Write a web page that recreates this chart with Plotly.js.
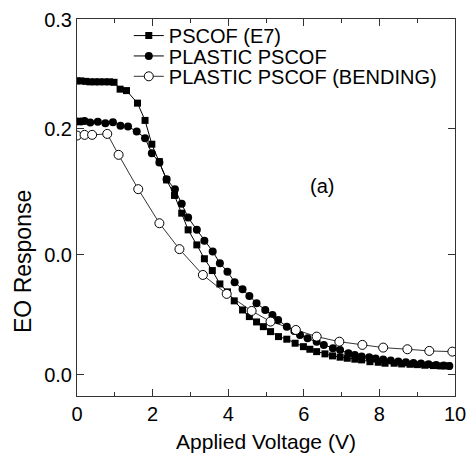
<!DOCTYPE html>
<html>
<head>
<meta charset="utf-8">
<script src="https://cdn.plot.ly/plotly-3.0.1.min.js"></script>
<style>html,body{margin:0;padding:0;background:#fff;}#chart{width:466px;height:461px;}</style>
</head>
<body>
<div id="chart"></div>
<script>
// Series names
const seriesNames = ["PSCOF (E7)", "PLASTIC PSCOF", "PLASTIC PSCOF (BENDING)"];

// PSCOF (E7) - filled squares
const e7X = [0, 0.1, 0.23, 0.34, 0.47, 0.59, 0.73, 0.86, 0.98, 1.14, 1.31, 1.6, 1.8, 1.98, 2.18, 2.37, 2.58, 2.77, 2.94, 3.17, 3.37, 3.58, 3.78, 3.98, 4.16, 4.38, 4.56, 4.75, 4.93, 5.12, 5.33, 5.55, 5.77, 5.99, 6.16, 6.34, 6.56, 6.76, 6.96, 7.15, 7.35, 7.53, 7.75, 7.97, 8.15, 8.39, 8.59, 8.81, 9.0, 9.2, 9.43, 9.62, 9.82];
const e7Y = [0.2485, 0.2485, 0.2481, 0.2477, 0.2477, 0.2477, 0.2477, 0.2477, 0.2473, 0.2415, 0.2403, 0.2297, 0.2151, 0.1950, 0.1803, 0.1648, 0.1517, 0.1367, 0.1226, 0.1099, 0.0982, 0.0882, 0.0769, 0.0702, 0.0626, 0.0549, 0.0493, 0.0448, 0.0408, 0.0366, 0.0324, 0.0302, 0.0268, 0.0239, 0.0217, 0.0197, 0.0178, 0.0161, 0.0150, 0.0141, 0.0133, 0.0127, 0.0112, 0.0107, 0.0099, 0.0099, 0.0093, 0.0090, 0.0087, 0.0082, 0.0079, 0.0076, 0.0076];

// PLASTIC PSCOF - filled circles
const plX = [0, 0.1, 0.2, 0.35, 0.55, 0.75, 0.95, 1.15, 1.35, 1.58, 1.8, 1.98, 2.18, 2.37, 2.59, 2.77, 2.94, 3.17, 3.37, 3.59, 3.78, 3.98, 4.17, 4.38, 4.56, 4.75, 4.98, 5.17, 5.32, 5.55, 5.75, 5.9, 6.1, 6.34, 6.53, 6.77, 6.96, 7.18, 7.35, 7.53, 7.73, 7.9, 8.1, 8.3, 8.5, 8.7, 8.9, 9.1, 9.3, 9.5, 9.7, 9.85];
const plY = [0.2141, 0.2141, 0.2147, 0.2133, 0.2139, 0.2128, 0.2136, 0.2105, 0.2099, 0.2057, 0.2001, 0.1874, 0.1795, 0.1654, 0.1570, 0.1446, 0.1330, 0.1226, 0.1135, 0.1044, 0.0944, 0.0873, 0.0784, 0.0724, 0.0668, 0.0606, 0.0549, 0.0507, 0.0465, 0.0408, 0.0372, 0.0338, 0.0309, 0.0281, 0.0254, 0.0226, 0.0211, 0.0183, 0.0169, 0.0155, 0.0150, 0.0139, 0.0131, 0.0123, 0.0114, 0.0107, 0.0101, 0.0096, 0.0090, 0.0085, 0.0080, 0.0076];

// PLASTIC PSCOF (BENDING) - open circles
const bdX = [0, 0.2, 0.4, 0.8, 1.1, 1.62, 2.18, 2.71, 3.33, 3.96, 4.62, 5.12, 5.79, 6.34, 6.94, 7.55, 8.1, 8.74, 9.32, 9.93];
const bdY = [0.2023, 0.2029, 0.2029, 0.2037, 0.1860, 0.1570, 0.1282, 0.1063, 0.0845, 0.0685, 0.0541, 0.0451, 0.0380, 0.0324, 0.0281, 0.0254, 0.0231, 0.0217, 0.0203, 0.0197];

// Axis ticks (labels as printed in the figure)
const yTickVals = [0, 0.1014, 0.208, 0.3];
const yTickText = ["0.0", "0.0", "0.2", "0.3"];
const xTickVals = [0, 2, 4, 6, 8, 10];
const xTickText = ["0", "2", "4", "6", "8", "10"];

const FONT = "Liberation Sans, Arial, Helvetica, sans-serif";

const traces = [
  {x: e7X, y: e7Y, name: seriesNames[0], mode: "lines+markers", legend: "legend",
   line: {color: "#000", width: 1}, marker: {symbol: "square", size: 7, color: "#000"}},
  {x: plX, y: plY, name: seriesNames[1], mode: "lines+markers", legend: "legend2",
   line: {color: "#000", width: 1}, marker: {symbol: "circle", size: 8, color: "#000"}},
  {x: bdX, y: bdY, name: seriesNames[2], mode: "lines+markers", legend: "legend3",
   line: {color: "#000", width: 0.8}, marker: {symbol: "circle", size: 9, color: "#fff", line: {color: "#000", width: 1}}}
];

function leg(y) {
  return {x: 0.137, y: y, xanchor: "left", yanchor: "middle", bgcolor: "rgba(0,0,0,0)",
          font: {family: FONT, size: 20, color: "#000"}, borderwidth: 0};
}

const layout = {
  width: 466, height: 461,
  margin: {l: 77, r: 11, t: 19, b: 65},
  paper_bgcolor: "#fff", plot_bgcolor: "#fff",
  font: {family: FONT, size: 20, color: "#000"},
  showlegend: true,
  legend: leg(0.956),
  legend2: leg(0.902),
  legend3: leg(0.848),
  xaxis: {
    range: [0, 10], tickvals: xTickVals, ticktext: xTickText,
    ticks: "inside", ticklen: 7, tickcolor: "#333", tickwidth: 1,
    minor: {tickvals: [1, 3, 5, 7, 9], ticks: "inside", ticklen: 4, tickcolor: "#333"},
    showline: true, linecolor: "#333", linewidth: 1, mirror: "ticks",
    showgrid: false, zeroline: false, ticklabeloverflow: "allow",
    tickfont: {family: FONT, size: 20},
    title: {text: "Applied Voltage (V)", font: {family: FONT, size: 21}, standoff: 10}
  },
  yaxis: {
    range: [-0.0178, 0.3008], tickvals: yTickVals, ticktext: yTickText,
    ticks: "inside", ticklen: 7, tickcolor: "#333", tickwidth: 1,
    showline: true, linecolor: "#333", linewidth: 1, mirror: "ticks",
    showgrid: false, zeroline: false,
    tickfont: {family: FONT, size: 20}
  },
  annotations: [
    {x: 6.48, y: 0.16, xref: "x", yref: "y", text: "(a)", showarrow: false,
     font: {family: FONT, size: 20, color: "#000"}},
    {x: -0.143, y: 0.358, xref: "paper", yref: "paper", text: "EO Response", textangle: -90,
     showarrow: false, xanchor: "center", yanchor: "middle",
     font: {family: FONT, size: 23, color: "#000"}}
  ]
};

Plotly.newPlot("chart", traces, layout, {displayModeBar: false, staticPlot: true});
</script>
</body>
</html>
